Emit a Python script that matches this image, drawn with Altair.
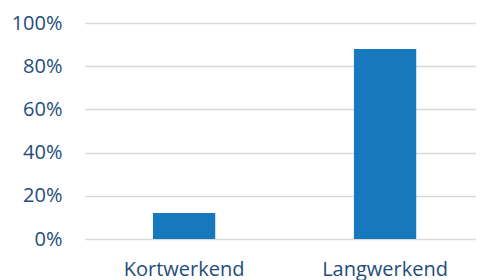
import altair as alt
import pandas as pd

categories = ["Kortwerkend", "Langwerkend"]
values = [0.12, 0.88]

df = pd.DataFrame({"cat": categories, "val": values})

chart = alt.Chart(df).mark_bar(color="#1878BE").encode(
    x=alt.X("cat:N", sort=categories, title=None,
            scale=alt.Scale(paddingInner=0.69, paddingOuter=0.3177, align=0.532),
            axis=alt.Axis(labelAngle=0, labelFontSize=20, labelColor="#1F4E79",
                          labelFont="Open Sans", domain=False, ticks=False,
                          labelPadding=20)),
    y=alt.Y("val:Q", title=None,
            scale=alt.Scale(domain=[0, 1]),
            axis=alt.Axis(format=".0%", values=[0, 0.2, 0.4, 0.6, 0.8, 1.0],
                          labelFontSize=20, labelColor="#1F4E79", labelFont="Open Sans",
                          domain=False, ticks=False, labelPadding=23,
                          gridColor="#D9D9D9", gridWidth=1.5)),
).properties(
    width=391, height=216,
    autosize=alt.AutoSizeParams(type="none"),
    padding={"left": 77, "top": 15, "right": 0, "bottom": 60},
).configure_view(stroke=None)

chart.save("out.html", embed_options={"renderer": "svg", "actions": False})
